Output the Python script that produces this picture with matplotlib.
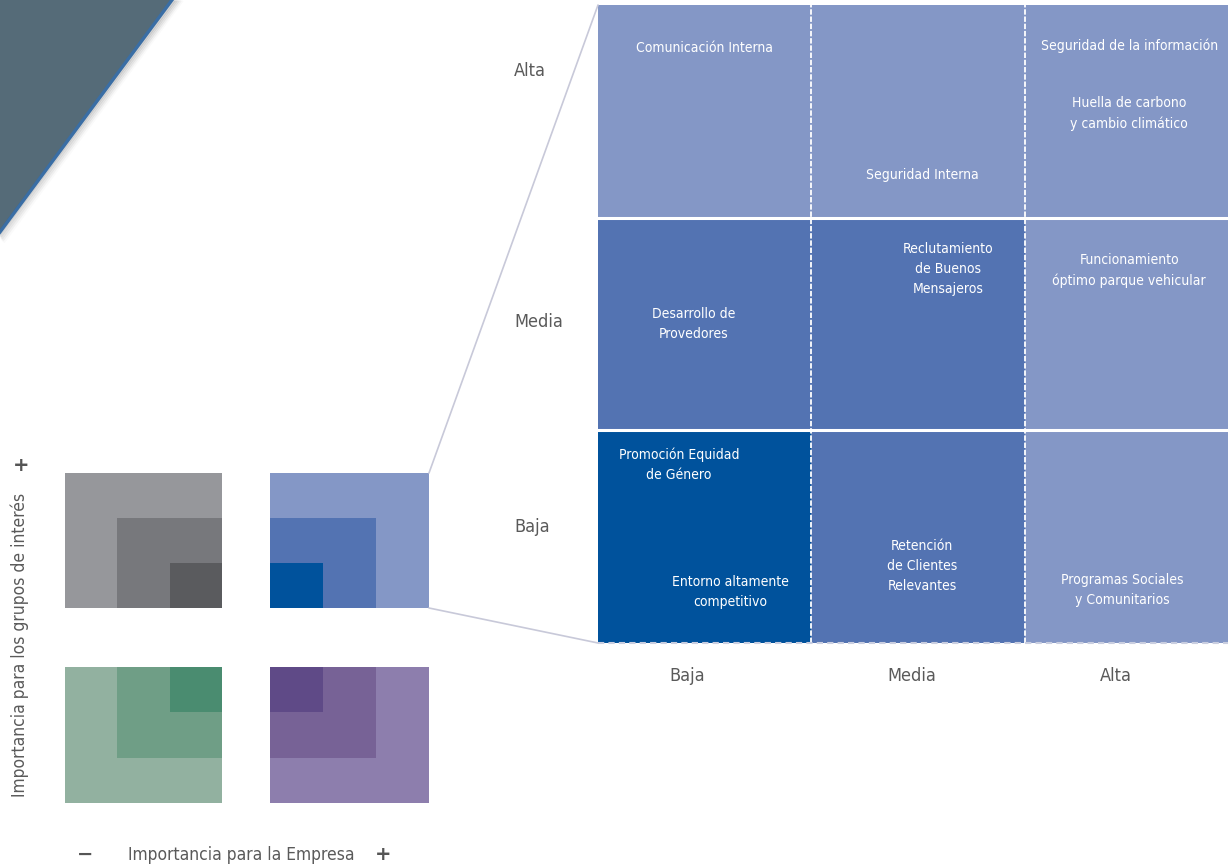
import matplotlib.pyplot as plt
from matplotlib.colors import ListedColormap
from matplotlib.patches import ConnectionPatch
import numpy as np

# niveles de importancia (0 = bajo, 1 = medio, 2 = alto)
niveles_y = ['Baja', 'Media', 'Alta']   # grupos de interés (abajo -> arriba)
niveles_x = ['Baja', 'Media', 'Alta']   # empresa (izquierda -> derecha)

# tono de cada celda de la matriz, filas de abajo hacia arriba
tono_celdas = [[2, 1, 0],
               [1, 1, 0],
               [0, 0, 0]]

# temas materiales y su posición en la matriz (escala 0-3)
temas = ['Comunicación Interna',
         'Seguridad de la información',
         'Huella de carbono\ny cambio climático',
         'Seguridad Interna',
         'Reclutamiento\nde Buenos\nMensajeros',
         'Funcionamiento\nóptimo parque vehicular',
         'Desarrollo de\nProvedores',
         'Promoción Equidad\nde Género',
         'Entorno altamente\ncompetitivo',
         'Retención\nde Clientes\nRelevantes',
         'Programas Sociales\ny Comunitarios']
tema_x = [0.50, 2.49, 2.49, 1.52, 1.64, 2.49, 0.45, 0.38, 0.62, 1.52, 2.46]
tema_y = [2.80, 2.81, 2.49, 2.20, 1.76, 1.75, 1.50, 0.84, 0.24, 0.36, 0.25]

azules = ['#8497c6', '#5373b2', '#00529c']
grises = ['#96979b', '#77787c', '#5a5b5e']
verdes = ['#92b1a0', '#6f9e86', '#4a8c70']
morados = ['#8d7ead', '#776296', '#5f4a87']

W, H = 1228, 866
fuente = ['DejaVu Sans']
gris_txt = '#5a5a5a'


def caja(x0, y0, x1, y1):
    # convierte una caja en pixeles a coordenadas de figura
    return [x0 / W, 1 - y1 / H, (x1 - x0) / W, (y1 - y0) / H]


fig = plt.figure(figsize=(W / 100, H / 100), dpi=100)

# triángulo decorativo arriba a la izquierda
deco = fig.add_axes([0, 0, 1, 1])
deco.set_xlim(0, W)
deco.set_ylim(H, 0)
deco.axis('off')
for k, a in enumerate([0.10, 0.08, 0.06, 0.04, 0.02]):
    d = 2 + k * 2
    deco.plot([172 + d, -2 + d * 0.5], [0, 232 + d], color='black', alpha=a, lw=3, solid_capstyle='butt')
deco.fill([0, 172, 0], [0, 0, 232], color='#556b78', lw=0)
deco.plot([172, 0], [0, 232], color='#3a6ea5', lw=2.4)

# matriz principal
tono = np.array(tono_celdas)
ax = fig.add_axes(caja(598, 5, 598 + 3 * 213.3, 643))
ax.pcolormesh(np.arange(4), np.arange(4), tono, cmap=ListedColormap(azules), vmin=0, vmax=2)
ax.set_xlim(0, 3)
ax.set_ylim(0, 3)
ax.axis('off')
for v in [1, 2]:
    ax.axvline(v, color='white', lw=1.3, ls=(0, (3, 1)))
    ax.axhline(v, color='white', lw=2.2)
ax.axhline(0, color='#c9cee0', lw=1.5, ls=(0, (3, 2)), clip_on=False)

for t, x, y in zip(temas, tema_x, tema_y):
    ax.text(x, y, t, color='white', fontsize=10, family=fuente, stretch='condensed',
            ha='center', va='center', linespacing=1.55)

fila_y = [0.545, 1.51, 2.69]
for lab, y in zip(niveles_y, fila_y):
    ax.text(-0.394, y, lab, color=gris_txt, fontsize=13, family=fuente, stretch='condensed',
            ha='left', va='center', clip_on=False)
col_x = [0.42, 1.47, 2.43]
for lab, x in zip(niveles_x, col_x):
    ax.text(x, -0.155, lab, color=gris_txt, fontsize=13, family=fuente, stretch='condensed',
            ha='center', va='center', clip_on=False)

# iconos de los cuadrantes
iconos = [
    (caja(65, 473, 222, 608), grises, tono[:, ::-1]),
    (caja(270, 473, 429, 608), azules, tono),
    (caja(65, 667, 222, 803), verdes, tono[::-1, ::-1]),
    (caja(270, 667, 429, 803), morados, tono[::-1, :]),
]
ejes_icono = []
for pos, cols, t in iconos:
    ai = fig.add_axes(pos)
    ai.pcolormesh(np.arange(4), np.arange(4), t, cmap=ListedColormap(cols), vmin=0, vmax=2)
    ai.set_xlim(0, 3)
    ai.set_ylim(0, 3)
    ai.axis('off')
    ejes_icono.append(ai)

# líneas de zoom del icono azul a la matriz
for ya, yb in [(3, 3), (0, 0)]:
    con = ConnectionPatch(xyA=(3, ya), coordsA=ejes_icono[1].transData,
                          xyB=(0, yb), coordsB=ax.transData,
                          color='#c8c9d9', lw=1.2)
    fig.add_artist(con)

# títulos de los ejes
fig.text(20 / W, 1 - 645 / H, 'Importancia para los grupos de interés', rotation=90,
         color=gris_txt, fontsize=12.5, family=fuente, stretch='condensed', ha='center', va='center')
fig.text(21 / W, 1 - 465 / H, '+', color='#555555', fontsize=14, fontweight='bold',
         ha='center', va='center')
fig.text(241 / W, 1 - 855 / H, 'Importancia para la Empresa', color=gris_txt,
         fontsize=12.5, family=fuente, stretch='condensed', ha='center', va='center')
fig.text(85 / W, 1 - 854 / H, '−', color='#555555', fontsize=14, fontweight='bold',
         ha='center', va='center')
fig.text(383 / W, 1 - 854 / H, '+', color='#555555', fontsize=14, fontweight='bold',
         ha='center', va='center')

fig.savefig('out.png', dpi=100)
